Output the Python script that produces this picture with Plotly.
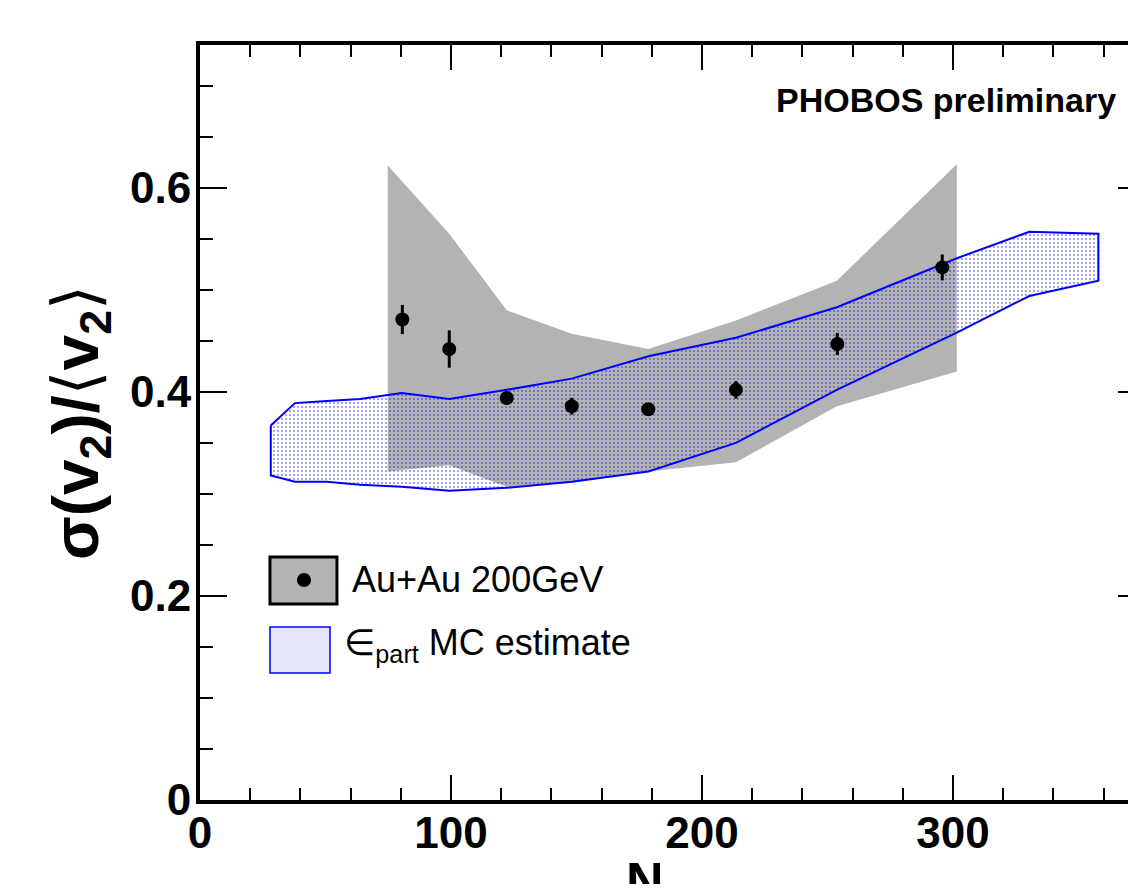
import plotly.graph_objects as go

# Measured data points: N_part, sigma(v2)/<v2>, stat. error
npart = [80.6, 99.3, 122.2, 148.1, 178.6, 213.5, 253.9, 295.7]
ratio = [0.471, 0.442, 0.394, 0.386, 0.383, 0.402, 0.447, 0.522]
ratio_err = [0.0143, 0.0183, 0.003, 0.0082, 0.002, 0.0086, 0.0108, 0.0127]

# Systematic (grey) band
sys_x = [74.8, 99.3, 122.2, 148.1, 178.6, 213.5, 253.7, 301.5]
sys_hi = [0.622, 0.555, 0.480, 0.457, 0.442, 0.470, 0.509, 0.623]
sys_lo = [0.322, 0.328, 0.307, 0.311, 0.322, 0.331, 0.386, 0.420]

# epsilon_part MC estimate (blue band)
mc_x = [28.2, 37.8, 50.5, 63.7, 80.4, 99.3, 122.2, 148.1, 178.6, 213.5, 253.7, 301.5, 330.4, 357.9]
mc_hi = [0.367, 0.389, 0.391, 0.393, 0.399, 0.393, 0.402, 0.413, 0.435, 0.453, 0.483, 0.531, 0.557, 0.555]
mc_lo = [0.318, 0.312, 0.312, 0.309, 0.307, 0.303, 0.306, 0.312, 0.322, 0.350, 0.402, 0.458, 0.494, 0.509]

FONT = "Liberation Sans, Arial, Helvetica, DejaVu Sans, sans-serif"

fig = go.Figure()

fig.add_trace(go.Scatter(
    x=sys_x + sys_x[::-1], y=sys_hi + sys_lo[::-1],
    fill="toself", fillcolor="#b3b3b3", mode="lines",
    line=dict(width=0, color="#b3b3b3"), hoverinfo="skip", showlegend=False))

fig.add_trace(go.Scatter(
    x=mc_x + mc_x[::-1] + [mc_x[0]], y=mc_hi + mc_lo[::-1] + [mc_hi[0]],
    fill="toself", fillcolor="rgba(0,0,0,0)", mode="lines",
    fillpattern=dict(shape=".", fgcolor="#0000ff", bgcolor="rgba(0,0,0,0)",
                     size=4, solidity=0.18),
    line=dict(width=2, color="#0000ff"), hoverinfo="skip", showlegend=False))

fig.add_trace(go.Scatter(
    x=npart, y=ratio, mode="markers",
    marker=dict(symbol="circle", size=14, color="black"),
    error_y=dict(type="data", array=ratio_err, color="black", thickness=3, width=0),
    showlegend=False))

# invisible helper trace for right-side tick stubs
fig.add_trace(go.Scatter(x=[npart[0]], y=[ratio[0]], yaxis="y2", mode="markers",
                         marker=dict(opacity=0), hoverinfo="skip", showlegend=False))

axis_font = dict(family=FONT, size=44, color="black", weight="bold")

fig.update_layout(
    width=1120, height=876,
    margin=dict(l=192, r=0, t=37, b=84),
    paper_bgcolor="white", plot_bgcolor="white",
    font=dict(family=FONT, color="black"),
    xaxis=dict(range=[0, 369.7], showgrid=False, zeroline=False,
               showline=True, linewidth=4, linecolor="black", mirror="ticks",
               ticks="inside", ticklen=25, tickwidth=2, tickcolor="black",
               tick0=0, dtick=100, tickfont=axis_font, ticklabelstandoff=-9,
               minor=dict(ticks="inside", ticklen=12, tickwidth=2, tickcolor="black",
                          dtick=20, showgrid=False)),
    yaxis=dict(range=[0, 0.74], showgrid=False, zeroline=False,
               showline=True, linewidth=4, linecolor="black", mirror=False,
               ticks="inside", ticklen=27, tickwidth=2, tickcolor="black",
               tick0=0, dtick=0.2, tickfont=axis_font, ticklabelstandoff=-4,
               title=dict(text="<b>σ(v<sub>2</sub>)/</b>⟨<b>v<sub>2</sub></b>⟩",
                          font=dict(family=FONT, size=64, color="black"), standoff=12),
               minor=dict(ticks="inside", ticklen=13, tickwidth=2, tickcolor="black",
                          dtick=0.05, showgrid=False)),
    yaxis2=dict(overlaying="y", side="right", matches="y", range=[0, 0.74],
                showgrid=False, zeroline=False, showline=False,
                ticks="inside", ticklen=10, tickwidth=2, tickcolor="black",
                tick0=0, dtick=0.2, showticklabels=False),
)

# Legend (drawn manually)
fig.add_shape(type="rect", xref="paper", yref="paper", x0=0.0754, x1=0.1476, y0=0.2596, y1=0.3219,
              fillcolor="#b3b3b3", line=dict(color="black", width=3))
fig.add_shape(type="circle", xref="paper", yref="paper", x0=0.1045, x1=0.1196, y0=0.2821, y1=0.3007,
              fillcolor="black", line=dict(color="black", width=0))
fig.add_shape(type="rect", xref="paper", yref="paper", x0=0.0754, x1=0.1401, y0=0.1682, y1=0.2291,
              fillcolor="#e6e6fb", line=dict(color="#0000ff", width=1.5))
fig.add_annotation(xref="paper", yref="paper", x=0.1616, y=0.2914, xanchor="left", yanchor="middle",
                   text="Au+Au 200GeV", showarrow=False, font=dict(family=FONT, size=36, color="black"))
fig.add_annotation(xref="paper", yref="paper", x=0.1530, y=0.2053, xanchor="left", yanchor="middle",
                   text="∈<sub>part</sub> MC estimate", showarrow=False,
                   font=dict(family=FONT, size=36, color="black"))

fig.add_annotation(xref="paper", yref="paper", x=0.9892, y=0.9272, xanchor="right", yanchor="middle",
                   text="<b>PHOBOS preliminary</b>", showarrow=False,
                   font=dict(family=FONT, size=34, color="black"))

fig.add_annotation(xref="paper", yref="paper", x=0.516, y=0, xanchor="center", yanchor="top",
                   yshift=-50, text="<b>N<sub>part</sub></b>", showarrow=False,
                   font=dict(family=FONT, size=52, color="black"))

fig.write_html("out.html")
